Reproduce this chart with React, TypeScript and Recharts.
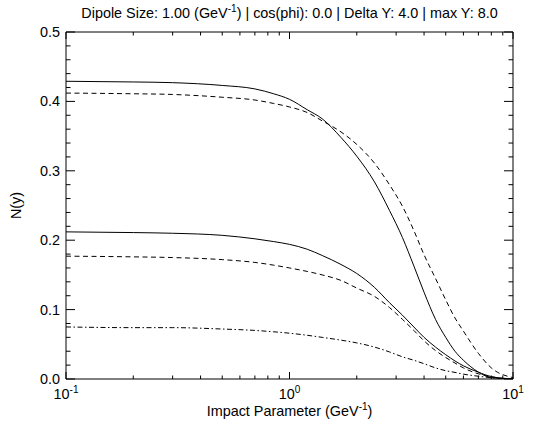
import React from "react";
import { LineChart, Line, XAxis, YAxis } from "recharts";

// impact parameter (GeV^-1), log axis
const impact = [
  0.1, 0.2, 0.3, 0.5, 0.7, 0.85, 1, 1.2, 1.4, 1.7, 2, 2.4, 2.8, 3.2, 3.6, 4,
  4.5, 5, 5.5, 6, 7, 8, 10,
];

const solidHigh = [
  0.429, 0.428, 0.427, 0.423, 0.418, 0.411, 0.403, 0.388, 0.375, 0.348, 0.321,
  0.284, 0.243, 0.204, 0.163, 0.125, 0.086, 0.06, 0.04, 0.027, 0.01, 0.002, 0,
];
const dashedHigh = [
  0.412, 0.411, 0.41, 0.406, 0.402, 0.397, 0.392, 0.384, 0.372, 0.356, 0.338,
  0.311, 0.28, 0.249, 0.214, 0.179, 0.145, 0.114, 0.088, 0.069, 0.037, 0.016,
  0.002,
];
const solidLow = [
  0.212, 0.211, 0.21, 0.207, 0.202, 0.198, 0.194, 0.187, 0.178, 0.165, 0.152,
  0.132, 0.11, 0.092, 0.075, 0.06, 0.046, 0.035, 0.026, 0.019, 0.0098, 0.0035,
  0.0001,
];
const dashedLow = [
  0.177, 0.176, 0.175, 0.172, 0.168, 0.164, 0.16, 0.155, 0.15, 0.142, 0.131,
  0.119, 0.103, 0.086, 0.07, 0.055, 0.041, 0.031, 0.023, 0.016, 0.0075, 0.003,
  0.0002,
];
const dashDot = [
  0.075, 0.074, 0.074, 0.072, 0.07, 0.068, 0.066, 0.063, 0.06, 0.056, 0.052,
  0.046, 0.039, 0.032, 0.027, 0.022, 0.016, 0.012, 0.0095, 0.007, 0.004,
  0.0018, 0.0002,
];

const xTicks = [
  0.1, 0.2, 0.3, 0.4, 0.5, 0.6, 0.7, 0.8, 0.9, 1, 2, 3, 4, 5, 6, 7, 8, 9, 10,
];
const xMajor = [0.1, 1, 10];
const yTicks = [
  0, 0.02, 0.04, 0.06, 0.08, 0.1, 0.12, 0.14, 0.16, 0.18, 0.2, 0.22, 0.24,
  0.26, 0.28, 0.3, 0.32, 0.34, 0.36, 0.38, 0.4, 0.42, 0.44, 0.46, 0.48, 0.5,
];

const data = impact.map((b, i) => ({
  b,
  s1: solidHigh[i],
  d1: dashedHigh[i],
  s2: solidLow[i],
  d2: dashedLow[i],
  dd: dashDot[i],
}));

const FONT = "'Liberation Sans', Arial, Helvetica, sans-serif";
const INK = "#000";
const FS = 14.4; // text size
const SUP = 10; // superscript size

const isMajorX = (v: number) => xMajor.some((m) => Math.abs(m - v) < 1e-9);
const isMajorY = (v: number) => Math.abs(v * 10 - Math.round(v * 10)) < 1e-6;

function BottomTick(props: any) {
  const { x, y, payload } = props;
  const major = isMajorX(payload.value);
  const exp = Math.round(Math.log10(payload.value));
  return (
    <g>
      <line x1={x} x2={x} y1={y} y2={y - (major ? 7 : 3.5)} stroke={INK} />
      {major && (
        <text x={x} y={y + 20} textAnchor="middle" fontSize={FS} fill={INK} fontFamily={FONT}>
          10
          <tspan dy={-6} fontSize={SUP}>
            {exp}
          </tspan>
        </text>
      )}
    </g>
  );
}

function TopTick(props: any) {
  const { x, y, payload } = props;
  const major = isMajorX(payload.value);
  return <line x1={x} x2={x} y1={y} y2={y + (major ? 7 : 3.5)} stroke={INK} />;
}

function LeftTick(props: any) {
  const { x, y, payload } = props;
  const major = isMajorY(payload.value);
  return (
    <g>
      <line x1={x} x2={x + (major ? 9 : 4.5)} y1={y} y2={y} stroke={INK} />
      {major && (
        <text x={x - 6} y={y + 5} textAnchor="end" fontSize={FS} fill={INK} fontFamily={FONT}>
          {payload.value.toFixed(1)}
        </text>
      )}
    </g>
  );
}

function RightTick(props: any) {
  const { x, y, payload } = props;
  const major = isMajorY(payload.value);
  return <line x1={x} x2={x - (major ? 9 : 4.5)} y1={y} y2={y} stroke={INK} />;
}

export default function App() {
  return (
    <div style={{ position: "absolute", left: 0, top: 0, background: "#fff" }}>
      <LineChart
        width={545}
        height={430}
        data={data}
        margin={{ top: 22, right: 22, bottom: 31, left: 46 }}
      >
        <XAxis
          dataKey="b"
          type="number"
          scale="log"
          domain={[0.1, 10]}
          allowDataOverflow
          ticks={xTicks}
          interval={0}
          height={20}
          tickSize={0}
          tickMargin={0}
          tickLine={false}
          axisLine={{ stroke: INK }}
          tick={<BottomTick />}
          label={{
            content: (p: any) => {
              const vb = p.viewBox;
              return (
                <text x={vb.x + vb.width / 2} y={vb.y + 37} textAnchor="middle" fontSize={FS} fill={INK} fontFamily={FONT}>
                  Impact Parameter (GeV
                  <tspan dy={-6} fontSize={SUP}>
                    -1
                  </tspan>
                  <tspan dy={6}>)</tspan>
                </text>
              );
            },
          }}
        />
        <XAxis
          xAxisId="top"
          orientation="top"
          dataKey="b"
          type="number"
          scale="log"
          domain={[0.1, 10]}
          allowDataOverflow
          ticks={xTicks}
          interval={0}
          height={10}
          tickSize={0}
          tickMargin={0}
          tickLine={false}
          axisLine={{ stroke: INK }}
          tick={<TopTick />}
          label={{
            content: (p: any) => {
              const vb = p.viewBox;
              return (
                <text x={vb.x + vb.width / 2} y={vb.y + vb.height - 14} textAnchor="middle" fontSize={FS} fill={INK} fontFamily={FONT}>
                  Dipole Size: 1.00 (GeV
                  <tspan dy={-6} fontSize={SUP}>
                    -1
                  </tspan>
                  <tspan dy={6}>) | cos(phi): 0.0 | Delta Y: 4.0 | max Y: 8.0</tspan>
                </text>
              );
            },
          }}
        />
        <YAxis
          type="number"
          domain={[0, 0.5]}
          allowDataOverflow
          ticks={yTicks}
          interval={0}
          width={20}
          tickSize={0}
          tickMargin={0}
          tickLine={false}
          axisLine={{ stroke: INK }}
          tick={<LeftTick />}
          label={{
            content: (p: any) => {
              const vb = p.viewBox;
              const cx = vb.x + vb.width - 45;
              const cy = vb.y + vb.height / 2;
              return (
                <text x={cx} y={cy} textAnchor="middle" fontSize={FS} fill={INK} fontFamily={FONT} transform={`rotate(-90 ${cx} ${cy})`}>
                  N(y)
                </text>
              );
            },
          }}
        />
        <YAxis
          yAxisId="right"
          orientation="right"
          type="number"
          domain={[0, 0.5]}
          allowDataOverflow
          ticks={yTicks}
          interval={0}
          width={10}
          tickSize={0}
          tickMargin={0}
          tickLine={false}
          axisLine={{ stroke: INK }}
          tick={<RightTick />}
        />
        <Line type="monotone" dataKey="s1" stroke={INK} strokeWidth={1} dot={false} isAnimationActive={false} />
        <Line type="monotone" dataKey="d1" stroke={INK} strokeWidth={1} strokeDasharray="5 3.5" dot={false} isAnimationActive={false} />
        <Line type="monotone" dataKey="s2" stroke={INK} strokeWidth={1} dot={false} isAnimationActive={false} />
        <Line type="monotone" dataKey="d2" stroke={INK} strokeWidth={1} strokeDasharray="5 3.5" dot={false} isAnimationActive={false} />
        <Line type="monotone" dataKey="dd" stroke={INK} strokeWidth={1} strokeDasharray="5 2.5 1.5 2.5" dot={false} isAnimationActive={false} />
      </LineChart>
    </div>
  );
}
